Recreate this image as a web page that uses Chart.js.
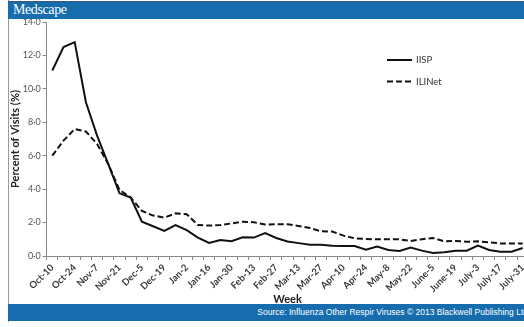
<!DOCTYPE html>
<html>
<head>
<meta charset="utf-8">
<script src="https://cdn.jsdelivr.net/npm/chart.js@4"></script>
<style>
  html, body { margin: 0; padding: 0; background: #fff; overflow: hidden; }
  #wrap { position: relative; width: 540px; height: 327px; }
  #frame { position: absolute; left: 8px; top: 0; width: 532px; height: 322px; border-left: 1px solid #9a9a9a; }
  #head { position: absolute; left: 8px; top: 1px; width: 532px; height: 17px; background: #176cad; border-top: 1px solid #3b5670; }
  #head span { position: absolute; left: 5px; top: 0px; font: 14px "Liberation Serif"; color: #fff; letter-spacing: -0.4px; }
  #foot { position: absolute; left: 8px; top: 304px; width: 532px; height: 17px; background: #176cad; }
  #foot span { position: absolute; right: 12px; top: 3px; font: 8.5px "Liberation Sans"; color: #fff; white-space: nowrap; }
  canvas { position: absolute; left: 0; top: 0; }
</style>
</head>
<body>
<div id="wrap">
  <div id="frame"></div>
  <canvas id="myChart" width="540" height="306"></canvas>
  <div id="head"><span>Medscape</span></div>
  <div id="foot"><span>Source: Influenza Other Respir Viruses © 2013 Blackwell Publishing Ltd</span></div>
</div>
<script>
const weeks = ['Oct-10', 'Oct-17', 'Oct-24', 'Oct-31', 'Nov-7', 'Nov-14', 'Nov-21', 'Nov-28',
    'Dec-5', 'Dec-12', 'Dec-19', 'Dec-26', 'Jan-2', 'Jan-9', 'Jan-16', 'Jan-23', 'Jan-30',
    'Feb-6', 'Feb-13', 'Feb-20', 'Feb-27', 'Mar-6', 'Mar-13', 'Mar-20', 'Mar-27', 'Apr-3',
    'Apr-10', 'Apr-17', 'Apr-24', 'May-1', 'May-8', 'May-15', 'May-22', 'May-29', 'June-5',
    'June-12', 'June-19', 'June-26', 'July-3', 'July-10', 'July-17', 'July-24', 'July-31'];

const iisp = [11.1, 12.5, 12.8, 9.2, 7.2, 5.5, 3.75, 3.5, 2.05, 1.78, 1.5, 1.85, 1.55, 1.1,
    0.78, 0.96, 0.88, 1.12, 1.1, 1.37, 1.08, 0.87, 0.77, 0.68, 0.68, 0.62, 0.6, 0.6, 0.38,
    0.56, 0.36, 0.3, 0.5, 0.32, 0.18, 0.22, 0.32, 0.32, 0.62, 0.36, 0.26, 0.26, 0.48];

const ilinet = [6.0, 6.9, 7.6, 7.45, 6.7, 5.5, 3.95, 3.5, 2.7, 2.42, 2.3, 2.55, 2.5, 1.85,
    1.82, 1.85, 1.95, 2.05, 2.02, 1.88, 1.9, 1.9, 1.8, 1.67, 1.48, 1.46, 1.22, 1.06, 1.02,
    1.0, 1.0, 1.0, 0.9, 1.0, 1.08, 0.88, 0.9, 0.85, 0.88, 0.82, 0.75, 0.75, 0.75];

const yTickLabels = ['0·0', '2·0', '4·0', '6·0', '8·0', '10·0', '12·0', '14·0'];

// legend sits inside the plot, drawn from the datasets
const insideLegend = {
    id: 'insideLegend',
    afterDraw(chart) {
        const ctx = chart.ctx;
        chart.data.datasets.forEach((ds, i) => {
            const y = 60 + i * 21.5;
            ctx.save();
            ctx.strokeStyle = ds.borderColor;
            ctx.lineWidth = 2;
            ctx.setLineDash(ds.borderDash || []);
            ctx.beginPath();
            ctx.moveTo(387, y);
            ctx.lineTo(412, y);
            ctx.stroke();
            ctx.fillStyle = '#333';
            ctx.font = '9.5px Lato';
            ctx.textBaseline = 'middle';
            ctx.fillText(ds.label, 416, y);
            ctx.restore();
        });
    }
};

const ctx = document.getElementById('myChart').getContext('2d');
new Chart(ctx, {
    type: 'line',
    data: {
        labels: weeks,
        datasets: [{
            label: 'IISP',
            data: iisp,
            borderColor: '#111',
            borderWidth: 2,
            pointRadius: 0,
            tension: 0
        }, {
            label: 'ILINet',
            data: ilinet,
            borderColor: '#111',
            borderWidth: 2,
            borderDash: [6, 3],
            pointRadius: 0,
            tension: 0
        }]
    },
    options: {
        responsive: false,
        animation: false,
        devicePixelRatio: 1,
        layout: { padding: { top: 22, right: 11.7, left: 0, bottom: 0 } },
        plugins: { legend: { display: false }, tooltip: { enabled: false } },
        scales: {
            x: {
                offset: true,
                grid: { offset: true, drawOnChartArea: false, tickLength: 4, color: '#888' },
                border: { color: '#888' },
                ticks: {
                    autoSkip: false,
                    maxRotation: 45,
                    minRotation: 45,
                    padding: 2,
                    color: '#3a3a3a',
                    font: { family: 'Lato', size: 9.5, weight: 'bold' },
                    callback: (v, i) => i % 2 === 0 ? weeks[i] : ''
                },
                title: {
                    display: true,
                    text: 'Week',
                    color: '#222',
                    padding: 0,
                    font: { family: 'Lato', size: 11, weight: 'bold' }
                },
                afterFit: scale => { scale.height = 50; }
            },
            y: {
                min: 0,
                max: 14,
                grid: { drawOnChartArea: false, tickLength: 4, color: '#888' },
                border: { color: '#888' },
                ticks: {
                    stepSize: 2,
                    padding: 2,
                    color: '#555',
                    font: { family: 'Lato', size: 9 },
                    callback: v => yTickLabels[v / 2]
                },
                title: {
                    display: true,
                    text: 'Percent of Visits (%)',
                    color: '#222',
                    padding: { top: 9, bottom: 0 },
                    font: { family: 'Lato', size: 11, weight: 'bold' }
                },
                afterFit: scale => { scale.width = 46.7; }
            }
        }
    },
    plugins: [insideLegend]
});
</script>
</body>
</html>
